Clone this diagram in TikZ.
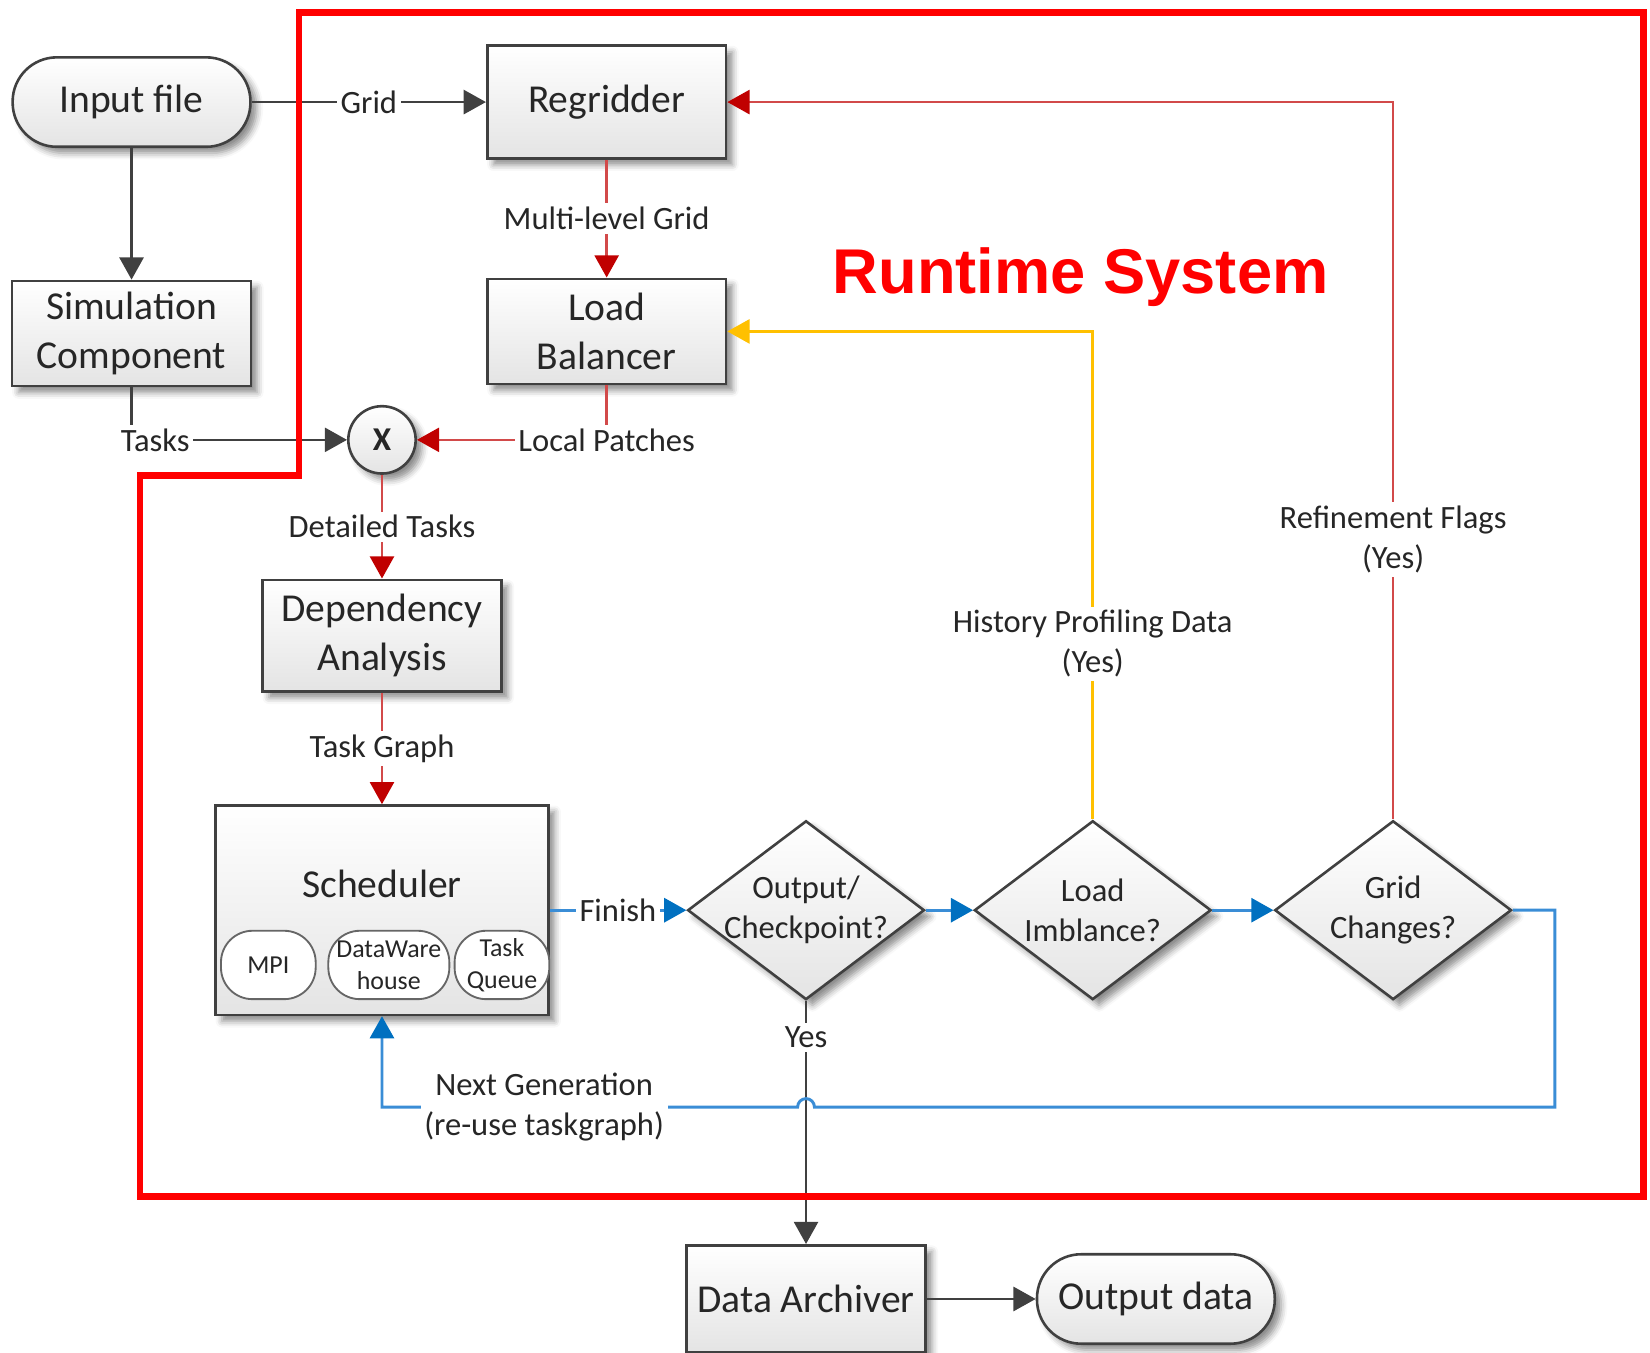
\documentclass[tikz,border=0pt]{standalone}
\usepackage{fontspec}
\setmainfont{Carlito}
\newfontfamily\headfont{Liberation Sans}
\usetikzlibrary{shapes.geometric, arrows.meta, positioning, calc, shadows.blur}
\definecolor{rtRed}{HTML}{FF0000}
\definecolor{flowRed}{HTML}{C00000}
\definecolor{flowRedLine}{HTML}{D24A4A}
\definecolor{flowBlue}{HTML}{0070C0}
\definecolor{flowBlueLine}{HTML}{3A8DD6}
\definecolor{flowYellow}{HTML}{FFC000}
\definecolor{flowGray}{HTML}{404040}
\definecolor{boxFill}{HTML}{E4E4E4}
\definecolor{boxText}{HTML}{262626}

\begin{document}
\begin{tikzpicture}[
  font=\fontsize{10.7}{13.1}\selectfont,
  every node/.style={text=boxText},
  proc/.style={draw=flowGray, line width=0.7pt, top color=white, bottom color=boxFill,
    align=center, inner sep=2pt, minimum width=2.27cm, minimum height=1.02cm,
    blur shadow={shadow xshift=0.6mm, shadow yshift=-0.6mm, shadow blur radius=0.6mm, shadow opacity=45}},
  term/.style={proc, rounded corners=0.42cm, minimum width=2.26cm, minimum height=0.85cm},
  decide/.style={proc, diamond, minimum width=2.25cm, minimum height=1.7cm,
    inner xsep=-2mm, inner ysep=-1mm, font=\fontsize{8.8}{10.8}\selectfont},
  inpart/.style={draw=flowGray!80, line width=0.5pt, fill=white, rounded corners=0.3cm,
    minimum height=0.65cm, align=center, inner sep=0pt, font=\fontsize{7}{8.6}\selectfont},
  lbl/.style={fill=white, inner sep=1pt, align=center, font=\fontsize{8.8}{10.8}\selectfont},
  grayflow/.style={draw=flowGray, line width=0.7pt, -{Triangle[length=6pt, width=6.5pt]}},
  redflow/.style={draw=flowRedLine, line width=0.7pt, -{Triangle[length=6pt, width=6.5pt, color=flowRed]}},
  blueflow/.style={draw=flowBlueLine, line width=0.8pt, -{Triangle[length=6pt, width=6.5pt, color=flowBlue]}},
  yellowflow/.style={draw=flowYellow, line width=0.7pt, -{Triangle[length=6pt, width=6.5pt]}}
]
  \useasboundingbox (0,0) rectangle (15.68,-12.85);

  % outside the runtime
  \node[term] (input) at (1.25,-0.97) {Input file};
  \node[proc, minimum height=1.0cm, below=1.25cm of input] (sim) {Simulation\\Component};

  % runtime pipeline
  \node[proc, minimum height=1.07cm] (regrid) at (5.765,-0.97) {Regridder};
  \node[proc, minimum height=1.0cm, below=1.12cm of regrid] (lb) {Load\\Balancer};
  \node[proc, circle, minimum size=0.64cm, inner sep=0pt,
    font=\bfseries\fontsize{9}{10}\selectfont] (xop) at (3.63,-4.18) {X};
  \node[proc, minimum height=1.06cm] (dep) at (3.63,-6.04) {Dependency\\Analysis};
  \node[proc, minimum width=3.16cm, minimum height=1.99cm, text depth=0.5cm,
    below=1.06cm of dep] (sched) {Scheduler};
  \node[inpart, minimum width=0.9cm] (mpi) at (2.55,-9.17) {MPI};
  \node[inpart, minimum width=1.15cm] (dware) at (3.695,-9.17) {DataWare\\house};
  \node[inpart, minimum width=0.9cm] (tqueue) at (4.77,-9.17) {Task\\Queue};

  % decisions
  \node[decide, right=1.3cm of sched] (outq) {Output/\\Checkpoint?};
  \node[decide, right=0.45cm of outq] (imbq) {Load\\Imblance?};
  \node[decide, right=0.58cm of imbq] (gridq) {Grid\\Changes?};

  \node[proc, below=2.31cm of outq] (arch) {Data Archiver};
  \node[term, right=1.035cm of arch] (outdata) {Output data};

  \node[text=rtRed, font=\headfont\bfseries\fontsize{17.1}{20}\selectfont] (rtlabel)
    at (10.27,-2.63) {Runtime System};

  % connectors
  \draw[grayflow] (input) -- node[lbl]{Grid} (regrid);
  \draw[grayflow] (input) -- (sim);
  \draw[grayflow] (sim.south) |- node[lbl, pos=0.555]{Tasks} (xop.west);
  \draw[redflow] (regrid) -- node[lbl]{Multi-level Grid} (lb);
  \draw[redflow] (lb.south) |- node[lbl, pos=0.5]{Local Patches} (xop.east);
  \draw[redflow] (xop) -- node[lbl]{Detailed Tasks} (dep);
  \draw[redflow] (dep) -- node[lbl]{Task Graph} (sched);
  \draw[blueflow] (sched.east) -- node[lbl]{Finish} (outq.west);
  \draw[blueflow] (outq) -- (imbq);
  \draw[blueflow] (imbq) -- (gridq);
  \draw[grayflow] (outq) -- node[lbl, pos=0.15]{Yes} (arch);
  \draw[grayflow] (arch) -- (outdata);
  \draw[yellowflow] (imbq.north) |- node[lbl, pos=0.18]{History Profiling Data\\(Yes)} (lb.east);
  \draw[redflow] (gridq.north) |- node[lbl, pos=0.195]{Refinement Flags\\(Yes)} (regrid.east);

  % next generation loop, hopping over the archiver line
  \coordinate (loopE) at ($(gridq.east)+(0.4,0)$);
  \coordinate (loopS) at (loopE |- 0,-10.52);
  \draw[blueflow] (gridq.east) -- (loopE) -- (loopS)
    -- ($(outq.south |- loopS)+(0.08,0)$) arc[start angle=0, end angle=180, radius=0.08]
    -- node[lbl, pos=0.61]{Next Generation\\(re-use taskgraph)} (sched.south |- loopS)
    -- (sched.south);

  % runtime system outline
  \draw[rtRed, line width=1.8pt] (2.84,-0.12) -- (15.62,-0.12) -- (15.62,-11.37)
    -- (1.33,-11.37) -- (1.33,-4.52) -- (2.84,-4.52) -- cycle;
\end{tikzpicture}
\end{document}
